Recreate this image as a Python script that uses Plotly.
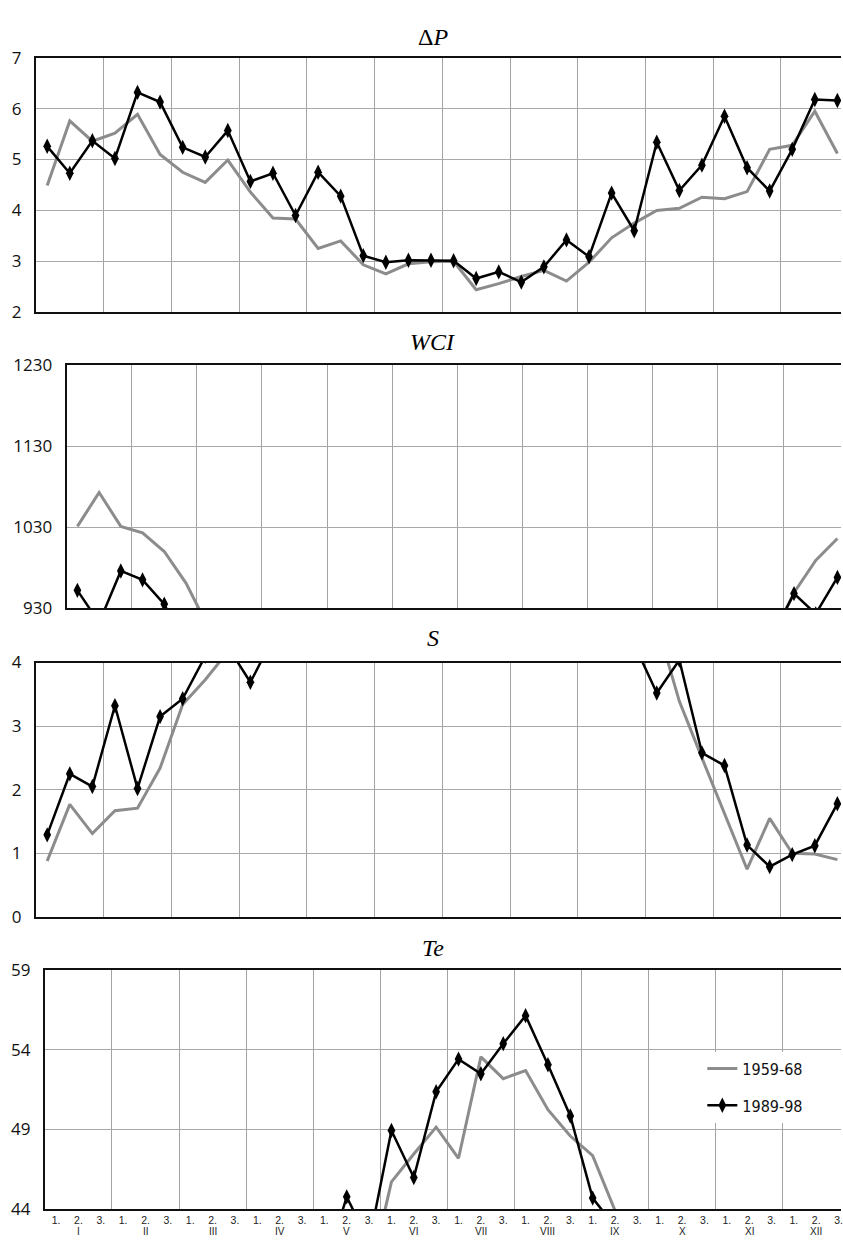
import plotly.graph_objects as go

# ---------------- data ----------------
months = ["I", "II", "III", "IV", "V", "VI", "VII", "VIII", "IX", "X", "XI", "XII"]
dekads = ["1.", "2.", "3."] * 12
series_names = ["1959-68", "1989-98"]

# Delta P
dp_1959 = [4.49, 5.76, 5.36, 5.52, 5.89, 5.10, 4.75, 4.55, 4.99, 4.36, 3.85, 3.83,
           3.25, 3.40, 2.93, 2.75, 2.95, 2.99, 3.00, 2.44, 2.56, 2.70, 2.82, 2.61,
           2.98, 3.46, 3.75, 4.00, 4.04, 4.26, 4.23, 4.37, 5.20, 5.28, 5.95, 5.12]
dp_1989 = [5.26, 4.73, 5.37, 5.02, 6.32, 6.13, 5.24, 5.05, 5.57, 4.57, 4.73, 3.90,
           4.75, 4.28, 3.11, 2.98, 3.02, 3.02, 3.01, 2.66, 2.79, 2.59, 2.89, 3.42,
           3.09, 4.34, 3.60, 5.34, 4.39, 4.89, 5.85, 4.84, 4.38, 5.20, 6.18, 6.16]

# WCI (values outside the visible window are not readable -> None)
wci_1959 = [1031, 1073, 1031, 1023, 1000, 961, 908] + [None] * 25 + [895, 949, 989, 1016]
wci_1989 = [952, 912, 976, 965, 935, 880] + [None] * 26 + [895, 948, 923, 968]

# S
s_1959 = [0.88, 1.77, 1.31, 1.67, 1.71, 2.34, 3.34, 3.73, 4.17] + [None] * 18 + \
         [4.61, 3.39, 2.50, 1.62, 0.75, 1.55, 1.00, 0.99, 0.90]
s_1989 = [1.29, 2.25, 2.05, 3.32, 2.02, 3.15, 3.43, 4.10, 4.25, 3.69, 4.38] + [None] * 15 + \
         [4.29, 3.52, 4.04, 2.58, 2.38, 1.13, 0.79, 0.98, 1.12, 1.78]

# Te
te_1959 = [None] * 14 + [39.6, 45.7, 47.45, 49.14, 47.18, 53.55, 52.18, 52.69, 50.23,
                         48.58, 47.35, 43.9] + [None] * 10
te_1989 = [None] * 12 + [40.2, 44.76, 41.9, 48.93, 45.97, 51.36, 53.41, 52.49, 54.38,
                         56.14, 53.06, 49.84, 44.68, 42.9] + [None] * 10

# ---------------- layout constants ----------------
W, H = 843, 1254
x_idx = list(range(36))
GREY = "#8c8c8c"
BLACK = "#000000"

panels = [
    dict(title="Δ<i>P</i>", g=dp_1959, b=dp_1989, yr=[2, 7], yt=[2, 3, 4, 5, 6, 7],
         top=46.7, bottom=305.7, left=36.0, full_right=850.7, ty=25),
    dict(title="<i>WCI</i>", g=wci_1959, b=wci_1989, yr=[930, 1230], yt=[930, 1030, 1130, 1230],
         top=360.0, bottom=607.3, left=66.7, full_right=850.3, ty=336),
    dict(title="<i>S</i>", g=s_1959, b=s_1989, yr=[0, 4], yt=[0, 1, 2, 3, 4],
         top=662.7, bottom=921.8, left=36.0, full_right=850.7, ty=638),
    dict(title="<i>Te</i>", g=te_1959, b=te_1989, yr=[44, 59], yt=[44, 49, 54, 59],
         top=976.0, bottom=1219.3, left=45.0, full_right=851.8, ty=953),
]

fig = go.Figure()
layout = dict(
    width=W, height=H,
    margin=dict(l=0, r=0, t=0, b=0),
    paper_bgcolor="white", plot_bgcolor="white",
    showlegend=True,
    legend=dict(x=704 / W, y=1 - 1059 / H, xanchor="left", yanchor="top",
                bgcolor="white", borderwidth=0, tracegroupgap=13,
                font=dict(family="DejaVu Sans Condensed, Liberation Sans Narrow, sans-serif",
                          size=16, color="#111")),
    annotations=[],
)

for i, p in enumerate(panels):
    n = "" if i == 0 else str(i + 1)
    xa, ya = "x" + n, "y" + n
    last = i == len(panels) - 1
    slot = (p["full_right"] - p["left"]) / 36.0
    xr = [-0.5, -0.5 + (W - p["left"]) / slot]

    fig.add_trace(go.Scatter(x=x_idx, y=p["g"], xaxis=xa, yaxis=ya, mode="lines",
                             line=dict(color=GREY, width=3), name=series_names[0],
                             legendgroup="a", showlegend=last, connectgaps=False))
    fig.add_trace(go.Scatter(x=x_idx, y=p["b"], xaxis=xa, yaxis=ya, mode="lines+markers",
                             line=dict(color=BLACK, width=2.5),
                             marker=dict(symbol="diamond-tall", size=11, color=BLACK),
                             name=series_names[1], legendgroup="b", showlegend=last,
                             connectgaps=False))

    layout["xaxis" + n] = dict(
        domain=[p["left"] / W, 1.0], range=xr, anchor=ya,
        showline=True, linecolor="#111", linewidth=2, mirror=True,
        showgrid=False, zeroline=False,
        tickmode="array", tickvals=x_idx, ticktext=dekads,
        showticklabels=last, tickangle=0, ticks="", ticklabeloverflow="allow",
        tickfont=dict(family="Liberation Sans, Arial, sans-serif", size=10.5, color="#222"),
        minor=dict(tickmode="linear", tick0=-0.5, dtick=3, showgrid=True,
                   gridcolor="#a3a3a3", gridwidth=1, ticks=""),
    )
    layout["yaxis" + n] = dict(
        domain=[1 - p["bottom"] / H, 1 - p["top"] / H], range=p["yr"], anchor=xa,
        tickmode="array", tickvals=p["yt"],
        showline=True, linecolor="#111", linewidth=2, mirror=False,
        showgrid=True, gridcolor="#a8a8a8", gridwidth=1, zeroline=False,
        ticks="outside", ticklen=9, tickcolor="rgba(0,0,0,0)",
        tickfont=dict(family="Open Sans, DejaVu Sans, sans-serif", size=17, color="#111"),
    )
    layout["annotations"].append(dict(
        text=p["title"], x=434 / W, y=1 - p["ty"] / H, xref="paper", yref="paper",
        xanchor="center", yanchor="middle", showarrow=False,
        font=dict(family="Liberation Serif, Times New Roman, serif", size=24, color="#000")))

# month names under the middle dekad of each month (bottom panel)
for m, name in enumerate(months):
    layout["annotations"].append(dict(
        text=name, x=3 * m + 1, xref="x4", y=1 - 1242 / H, yref="paper",
        xanchor="center", yanchor="middle", showarrow=False,
        font=dict(family="Liberation Sans, Arial, sans-serif", size=10, color="#222")))

fig.update_layout(**layout)

fig.write_html("out.html", config={"displayModeBar": False},
               post_script="document.body.style.margin='0';document.body.style.overflow='hidden';")
